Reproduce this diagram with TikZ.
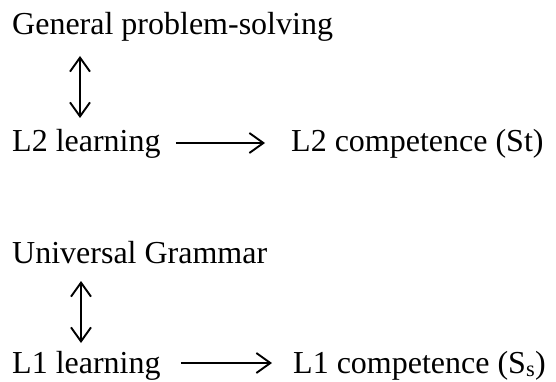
\documentclass[tikz,border=0pt]{standalone}
\usepackage{fontspec}
\setmainfont{Liberation Serif}
\usetikzlibrary{arrows.meta}
\begin{document}
\begin{tikzpicture}[x=1pt,y=-1pt,
  lbl/.style={anchor=base west,inner sep=0pt,font=\fontsize{32}{36}\selectfont},
  conn/.style={line width=1.9pt,-{Straight Barb[length=14pt,width=20pt,line width=1.9pt]}},
  dconn/.style={line width=1.9pt,{Straight Barb[length=14pt,width=20pt,line width=1.9pt]}-{Straight Barb[length=14pt,width=20pt,line width=1.9pt]}}]
\useasboundingbox (0,0) rectangle (556,382);
% upper chain: second-language acquisition
\node[lbl] (gps) at (12,35) {General problem-solving};
\node[lbl] (l2l) at (12,152) {L2 learning};
\node[lbl] (l2c) at (291,152) {L2 competence (St)};
\coordinate (a1) at (80,56);
\coordinate (a2) at (80,118);
\draw[dconn] (a1) -- (a2);
\draw[conn] ([xshift=15pt,yshift=9pt]l2l.base east) -- ([xshift=-26pt,yshift=9pt]l2c.base west);
% lower chain: first-language acquisition
\node[lbl] (ug) at (12,263) {Universal Grammar};
\node[lbl] (l1l) at (12,373) {L1 learning};
\node[lbl] (l1c) at (293,373) {L1 competence (S\textsubscript{s})};
\coordinate (b1) at (81,281);
\coordinate (b2) at (81,343);
\draw[dconn] (b1) -- (b2);
\draw[conn] ([xshift=20pt,yshift=10pt]l1l.base east) -- ([xshift=-21pt,yshift=10pt]l1c.base west);
\end{tikzpicture}
\end{document}
